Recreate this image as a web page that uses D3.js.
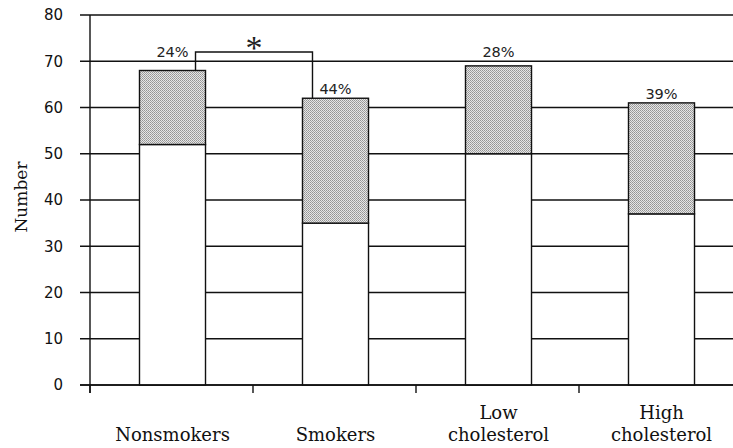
<!DOCTYPE html>
<html>
<head>
<meta charset="utf-8">
<script src="https://cdn.jsdelivr.net/npm/d3@7"></script>
<style>
  body { margin: 0; background: #fff; }
  svg { display: block; }
</style>
</head>
<body>
<div id="chart"></div>
<script>
var categories = [["Nonsmokers"], ["Smokers"], ["Low", "cholesterol"], ["High", "cholesterol"]];
var baseValues = [52, 35, 50, 37];      // white, lower part
var addedValues = [16, 27, 19, 24];     // stippled, upper part
var pctLabels = ["24%", "44%", "28%", "39%"];
var yTicks = [0, 10, 20, 30, 40, 50, 60, 70, 80];

function init() {
    var w = 733;
    var h = 448;
    var left = 90, top = 15, bottom = 385;

    var svg = d3.select("#chart")
                .append("svg")
                .attr("width", w)
                .attr("height", h);

    var defs = svg.append("defs");
    var pat = defs.append("pattern")
        .attr("id", "stipple")
        .attr("width", 2).attr("height", 2)
        .attr("patternUnits", "userSpaceOnUse");
    pat.append("rect").attr("width", 2).attr("height", 2).attr("fill", "#e6e6e6");
    pat.append("rect").attr("width", 1).attr("height", 1).attr("fill", "#949494");
    pat.append("rect").attr("x", 1).attr("y", 1).attr("width", 1).attr("height", 1).attr("fill", "#a4a4a4");

    var keys = categories.map(function(c) { return c.join(" "); });

    var x = d3.scaleBand()
              .domain(keys)
              .range([left, left + 4 * 163])
              .padding(0);

    var y = d3.scaleLinear()
              .domain([0, 80])
              .range([bottom, top]);

    // gridlines, running out past the left axis as ticks
    svg.append("g")
        .selectAll("line")
        .data(yTicks)
        .enter()
        .append("line")
        .attr("x1", left - 10)
        .attr("x2", w)
        .attr("y1", function(d) { return y(d); })
        .attr("y2", function(d) { return y(d); })
        .attr("stroke", "#111")
        .attr("stroke-width", 1.4);

    // y axis labels
    var yAxis = d3.axisLeft(y).tickValues(yTicks).tickSize(0).tickPadding(27);
    var ga = svg.append("g")
        .attr("transform", "translate(" + left + ",0)")
        .call(yAxis);
    ga.select(".domain").remove();
    ga.selectAll("text")
        .attr("font-family", "DejaVu Sans")
        .attr("font-size", 15)
        .attr("fill", "#111");

    // y axis line
    svg.append("line")
        .attr("x1", left).attr("x2", left)
        .attr("y1", top).attr("y2", bottom + 8)
        .attr("stroke", "#111").attr("stroke-width", 1.4);

    // x category ticks
    svg.append("g")
        .selectAll("line")
        .data(keys)
        .enter()
        .append("line")
        .attr("x1", function(d) { return x(d); })
        .attr("x2", function(d) { return x(d); })
        .attr("y1", bottom)
        .attr("y2", bottom + 8)
        .attr("stroke", "#111")
        .attr("stroke-width", 1.4);

    var stackData = keys.map(function(k, i) {
        return { key: k, base: baseValues[i], added: addedValues[i] };
    });
    var series = d3.stack().keys(["base", "added"])(stackData);

    var barW = x.bandwidth() * 0.405;
    function barX(k) { return x(k) + x.bandwidth() / 2 - barW / 2 + 1; }

    svg.append("g")
        .selectAll("g")
        .data(series)
        .enter()
        .append("g")
        .attr("fill", function(s) { return s.key === "base" ? "#fff" : "url(#stipple)"; })
        .selectAll("rect")
        .data(function(s) { return s; })
        .enter()
        .append("rect")
        .attr("x", function(d) { return barX(d.data.key); })
        .attr("width", barW)
        .attr("y", function(d) { return y(d[1]); })
        .attr("height", function(d) { return y(d[0]) - y(d[1]); })
        .attr("stroke", "#111")
        .attr("stroke-width", 1.4);

    // x axis line on top of bars
    svg.append("line")
        .attr("x1", left - 10).attr("x2", w)
        .attr("y1", bottom).attr("y2", bottom)
        .attr("stroke", "#111").attr("stroke-width", 1.4);

    // percent labels, lifted above a gridline if they would sit on one
    svg.append("g")
        .selectAll("text")
        .data(stackData)
        .enter()
        .append("text")
        .attr("x", function(d) { return barX(d.key) + barW / 2; })
        .attr("y", function(d) {
            var b = y(d.base + d.added) - 4;
            yTicks.forEach(function(t) {
                var gy = y(t);
                if (gy > b - 12 && gy < b + 2) b = gy - 4;
            });
            return b;
        })
        .attr("text-anchor", "middle")
        .attr("font-family", "DejaVu Sans")
        .attr("font-size", 14.5)
        .attr("fill", "#222")
        .text(function(d, i) { return pctLabels[i]; });

    // significance bracket between nonsmokers and smokers
    var a = stackData[0], b = stackData[1];
    var bx1 = barX(a.key) + barW - 10;
    var bx2 = barX(b.key) + 10;
    var by = y(Math.max(a.base + a.added, b.base + b.added) + 4);
    svg.append("path")
        .attr("d", "M" + bx1 + "," + y(a.base + a.added) +
                   "V" + by + "H" + bx2 + "V" + y(b.base + b.added))
        .attr("fill", "none")
        .attr("stroke", "#111")
        .attr("stroke-width", 1.4);
    svg.append("text")
        .attr("x", (bx1 + bx2) / 2)
        .attr("y", by + 7)
        .attr("text-anchor", "middle")
        .attr("font-family", "Liberation Serif")
        .attr("font-size", 34)
        .attr("fill", "#222")
        .text("*");

    // category labels, bottom aligned
    var cat = svg.append("g")
        .selectAll("text")
        .data(categories)
        .enter()
        .append("text")
        .attr("text-anchor", "middle")
        .attr("font-family", "DejaVu Serif")
        .attr("font-size", 18)
        .attr("fill", "#111")
        .attr("transform", function(d, i) {
            return "translate(" + (x(keys[i]) + x.bandwidth() / 2 + 1) + ",441)";
        });
    cat.selectAll("tspan")
        .data(function(d) { return d; })
        .enter()
        .append("tspan")
        .attr("x", 0)
        .attr("y", function(d, j, nodes) { return (j - (nodes.length - 1)) * 22; })
        .text(function(d) { return d; });

    // y axis title
    svg.append("text")
        .attr("transform", "translate(27,197) rotate(-90)")
        .attr("text-anchor", "middle")
        .attr("font-family", "DejaVu Serif")
        .attr("font-size", 17)
        .attr("fill", "#111")
        .text("Number");
}

window.onload = init;
</script>
</body>
</html>
